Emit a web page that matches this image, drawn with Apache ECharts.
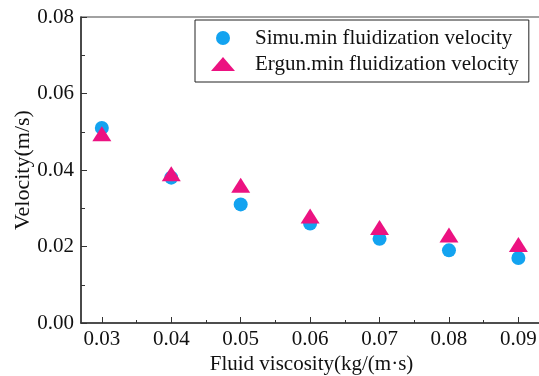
<!DOCTYPE html>
<html>
<head>
<meta charset="utf-8">
<script src="https://cdn.jsdelivr.net/npm/echarts@6/dist/echarts.min.js"></script>
<style>
  html, body { margin: 0; padding: 0; background: #fff; }
  #chart { width: 539px; height: 376px; }
</style>
</head>
<body>
<div id="chart"></div>
<script>
const viscosity = [0.03, 0.04, 0.05, 0.06, 0.07, 0.08, 0.09]
const simuVelocity = [0.051, 0.038, 0.031, 0.026, 0.022, 0.019, 0.017]
const ergunVelocity = [0.0495, 0.039, 0.036, 0.028, 0.025, 0.023, 0.0205]
const xMinorTicks = [0.035, 0.045, 0.055, 0.065, 0.075, 0.085]

const font = "'Liberation Serif', 'Times New Roman', serif"
const chart = echarts.init(document.getElementById('chart'), null, { renderer: 'canvas' })

const option = {
  backgroundColor: '#fff',
  animation: false,
  textStyle: { fontFamily: font },
  grid: {
    left: 81, top: 17, right: -3, bottom: 53,
    containLabel: false, outerBoundsMode: 'none',
    show: true, borderColor: '#444', borderWidth: 1.2
  },
  legend: {
    orient: 'vertical',
    left: 195, top: 20,
    padding: [7, 10, 7, 16],
    itemGap: 4,
    itemWidth: 24, itemHeight: 14,
    borderColor: '#222', borderWidth: 1,
    textStyle: { fontFamily: font, fontSize: 21, color: '#111', lineHeight: 22, padding: [0, 0, 0, 15] },
    data: ['Simu.min fluidization velocity', 'Ergun.min fluidization velocity']
  },
  xAxis: [{
    type: 'value',
    min: 0.027, max: 0.0934,
    name: 'Fluid viscosity(kg/(m·s)',
    nameLocation: 'middle', nameGap: 31, nameMoveOverlap: false,
    nameTextStyle: { fontFamily: font, fontSize: 21, color: '#111' },
    axisLine: { lineStyle: { color: '#333', width: 1.5 } },
    axisTick: { inside: true, length: 6, customValues: viscosity, lineStyle: { color: '#333' } },
    axisLabel: { customValues: viscosity, formatter: v => v.toFixed(2), fontFamily: font, fontSize: 21, color: '#111', margin: 6 },
    splitLine: { show: false }
  }, {
    type: 'value',
    position: 'bottom',
    min: 0.027, max: 0.0934,
    axisLine: { show: false },
    axisTick: { inside: true, length: 3, customValues: xMinorTicks, lineStyle: { color: '#333' } },
    axisLabel: { show: false },
    splitLine: { show: false }
  }],
  yAxis: {
    type: 'value',
    min: 0, max: 0.08, interval: 0.02,
    name: 'Velocity(m/s)',
    nameLocation: 'middle', nameGap: 47, nameMoveOverlap: false,
    nameTextStyle: { fontFamily: font, fontSize: 22, color: '#111' },
    axisLine: { show: true, lineStyle: { color: '#333', width: 1.5 } },
    axisTick: { show: true, inside: true, length: 6, lineStyle: { color: '#333' } },
    minorTick: { show: true, splitNumber: 2, length: 4, lineStyle: { color: '#333' } },
    axisLabel: { formatter: v => v.toFixed(2), fontFamily: font, fontSize: 21, color: '#111', margin: 7 },
    splitLine: { show: false }
  },
  series: [{
    name: 'Simu.min fluidization velocity',
    type: 'scatter',
    symbol: 'circle',
    symbolSize: 14,
    itemStyle: { color: '#13A3F0', opacity: 1 },
    data: viscosity.map((x, i) => [x, simuVelocity[i]])
  }, {
    name: 'Ergun.min fluidization velocity',
    type: 'scatter',
    symbol: 'triangle',
    symbolSize: [19, 15],
    itemStyle: { color: '#EC1281', opacity: 1 },
    data: viscosity.map((x, i) => [x, ergunVelocity[i]])
  }]
}
chart.setOption(option)
</script>
</body>
</html>
